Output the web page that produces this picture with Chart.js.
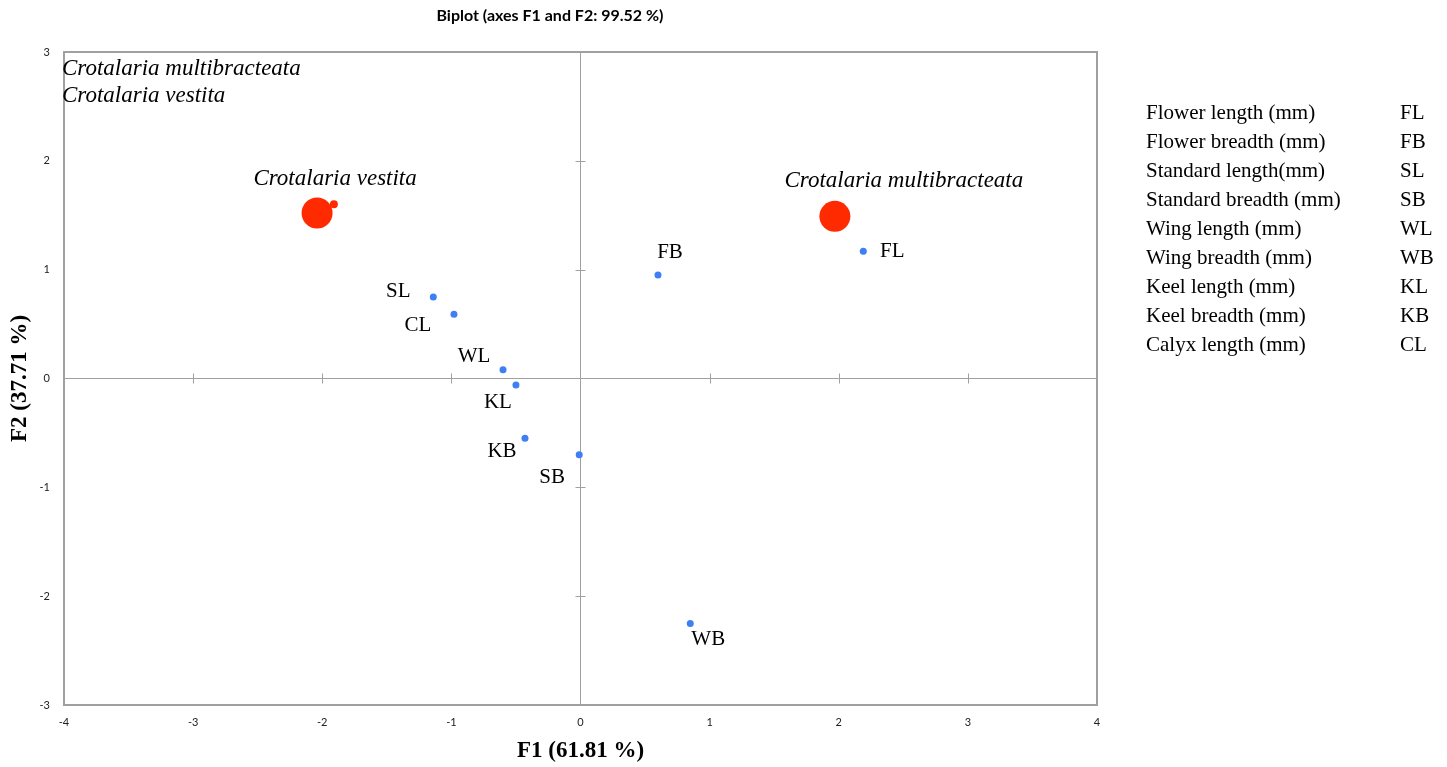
<!DOCTYPE html>
<html>
<head>
<meta charset="utf-8">
<script src="https://cdn.jsdelivr.net/npm/chart.js@4.4.1/dist/chart.umd.min.js"></script>
<style>
  html, body { margin: 0; padding: 0; background: #fff; }
  #wrap { position: relative; width: 1447px; height: 767px; overflow: hidden; }
  #c { position: absolute; left: 0; top: 0; }
  .title { position: absolute; left: 0; width: 1100px; top: 5px; text-align: center;
           font: bold 16px Lato, "Liberation Sans", sans-serif; color: #000; }
  .sp { position: absolute; left: 62px; font: italic 23px "Liberation Serif", "DejaVu Serif", serif; color: #000; line-height: 26px; }
  .lg { position: absolute; font: 21px "Liberation Serif", "DejaVu Serif", serif; color: #000; line-height: 24px; white-space: nowrap; }
</style>
</head>
<body>
<div id="wrap">
  <canvas id="c" width="1447" height="767"></canvas>
  <div class="title">Biplot (axes F1 and F2: 99.52 %)</div>
  <div id="spTop"></div>
  <div id="legend"></div>
</div>
<script>
// ---- data ----
const varNames = ['FL', 'FB', 'SL', 'SB', 'WL', 'WB', 'KL', 'KB', 'CL'];
const varF1 = [2.19, 0.60, -1.14, -0.01, -0.60, 0.85, -0.50, -0.43, -0.98];
const varF2 = [1.17, 0.95, 0.75, -0.70, 0.08, -2.25, -0.06, -0.55, 0.59];
const obsNames = ['Crotalaria multibracteata', 'Crotalaria vestita'];
const obsF1 = [1.97, -2.04];
const obsF2 = [1.49, 1.52];
const smallObsF1 = [-1.91];
const smallObsF2 = [1.60];
const xTickValues = [-4, -3, -2, -1, 0, 1, 2, 3, 4];
const yTickValues = [-3, -2, -1, 0, 1, 2, 3];
const legendNames = ['Flower length (mm)', 'Flower breadth (mm)', 'Standard length(mm)', 'Standard breadth (mm)',
  'Wing length (mm)', 'Wing breadth (mm)', 'Keel length (mm)', 'Keel breadth (mm)', 'Calyx length (mm)'];
const legendCodes = ['FL', 'FB', 'SL', 'SB', 'WL', 'WB', 'KL', 'KB', 'CL'];

// ---- label placement (style) ----
const varLabelOffset = {
  FL: [29, 0], FB: [12, -23], SL: [-35, -5], SB: [-27, 23], WL: [-29, -13],
  WB: [18, 16], KL: [-18, 17], KB: [-23, 13], CL: [-36, 11]
};
const obsLabelOffset = {
  'Crotalaria multibracteata': [69, -35],
  'Crotalaria vestita': [18, -34]
};

// ---- HTML text blocks ----
const spTop = document.getElementById('spTop');
obsNames.forEach((n, i) => {
  const d = document.createElement('div');
  d.className = 'sp';
  d.style.top = (55 + i * 27) + 'px';
  d.textContent = n;
  spTop.appendChild(d);
});
const lg = document.getElementById('legend');
legendNames.forEach((n, i) => {
  const a = document.createElement('div');
  a.className = 'lg'; a.style.left = '1146px'; a.style.top = (100 + i * 29) + 'px';
  a.textContent = n; lg.appendChild(a);
  const b = document.createElement('div');
  b.className = 'lg'; b.style.left = '1400px'; b.style.top = (100 + i * 29) + 'px';
  b.textContent = legendCodes[i]; lg.appendChild(b);
});

const axisGrey = '#a0a0a0';

const framePlugin = {
  id: 'frame',
  beforeDatasetsDraw(chart) {
    const { ctx, chartArea: a, scales: { x, y } } = chart;
    ctx.save();
    ctx.strokeStyle = axisGrey;
    ctx.lineWidth = 1;
    const x0 = x.getPixelForValue(0), y0 = y.getPixelForValue(0);
    ctx.beginPath();
    xTickValues.forEach(v => {
      if (v === 0 || v === x.min || v === x.max) return;
      const px = Math.round(x.getPixelForValue(v)) + 0.5;
      ctx.moveTo(px, y0 - 5); ctx.lineTo(px, y0 + 5);
    });
    yTickValues.forEach(v => {
      if (v === 0 || v === y.min || v === y.max) return;
      const py = Math.round(y.getPixelForValue(v)) + 0.5;
      ctx.moveTo(x0 - 5, py); ctx.lineTo(x0 + 5, py);
    });
    ctx.stroke();
    ctx.lineWidth = 2;
    ctx.strokeRect(a.left, a.top, a.right - a.left, a.bottom - a.top);
    ctx.restore();
  }
};

const labelPlugin = {
  id: 'pointLabels',
  afterDatasetsDraw(chart) {
    const { ctx, scales: { x, y } } = chart;
    ctx.save();
    ctx.fillStyle = '#000';
    ctx.textAlign = 'center';
    ctx.textBaseline = 'middle';
    ctx.font = '21px "Liberation Serif", "DejaVu Serif", serif';
    varNames.forEach((n, i) => {
      const o = varLabelOffset[n];
      ctx.fillText(n, x.getPixelForValue(varF1[i]) + o[0], y.getPixelForValue(varF2[i]) + o[1]);
    });
    ctx.font = 'italic 23px "Liberation Serif", "DejaVu Serif", serif';
    obsNames.forEach((n, i) => {
      const o = obsLabelOffset[n];
      ctx.fillText(n, x.getPixelForValue(obsF1[i]) + o[0], y.getPixelForValue(obsF2[i]) + o[1]);
    });
    ctx.restore();
  }
};

new Chart(document.getElementById('c'), {
  type: 'scatter',
  data: {
    datasets: [
      {
        label: 'Variables',
        data: varF1.map((v, i) => ({ x: v, y: varF2[i] })),
        backgroundColor: '#3f7ff5', borderColor: '#3f7ff5',
        pointRadius: 3.5, pointBorderWidth: 0
      },
      {
        label: 'Observations',
        data: obsF1.map((v, i) => ({ x: v, y: obsF2[i] })),
        backgroundColor: '#ff2a00', borderColor: '#ff2a00',
        pointRadius: 15.5, pointBorderWidth: 0
      },
      {
        label: 'Small',
        data: smallObsF1.map((v, i) => ({ x: v, y: smallObsF2[i] })),
        backgroundColor: '#ff2a00', borderColor: '#ff2a00',
        pointRadius: 4, pointBorderWidth: 0
      }
    ]
  },
  options: {
    responsive: false,
    animation: false,
    events: [],
    layout: { padding: { left: 0, right: 350, top: 52, bottom: 0 } },
    plugins: { legend: { display: false }, tooltip: { enabled: false }, title: { display: false } },
    scales: {
      x: {
        type: 'linear', min: -4, max: 4,
        afterBuildTicks(s) { s.ticks = xTickValues.map(v => ({ value: v })); },
        afterFit(s) { s.height = 62; },
        ticks: { padding: 11, color: '#222', font: { family: 'Lato, "Liberation Sans", sans-serif', size: 11 } },
        grid: { drawTicks: false, lineWidth: 1, color: c => (c.tick && c.tick.value === 0) ? axisGrey : 'rgba(0,0,0,0)' },
        border: { display: false },
        title: { display: true, text: 'F1 (61.81 %)', color: '#000', padding: { top: 0, bottom: 2 },
                 font: { family: '"Liberation Serif", "DejaVu Serif", serif', size: 23, weight: 'bold' } }
      },
      y: {
        type: 'linear', min: -3, max: 3,
        afterBuildTicks(s) { s.ticks = yTickValues.map(v => ({ value: v })); },
        afterFit(s) { s.width = 64; },
        ticks: { padding: 14, color: '#222', font: { family: 'Lato, "Liberation Sans", sans-serif', size: 11 } },
        grid: { drawTicks: false, lineWidth: 1, color: c => (c.tick && c.tick.value === 0) ? axisGrey : 'rgba(0,0,0,0)' },
        border: { display: false },
        title: { display: true, text: 'F2 (37.71 %)', color: '#000', padding: { top: 6, bottom: 0 },
                 font: { family: '"Liberation Serif", "DejaVu Serif", serif', size: 23, weight: 'bold' } }
      }
    }
  },
  plugins: [framePlugin, labelPlugin]
});
</script>
</body>
</html>
